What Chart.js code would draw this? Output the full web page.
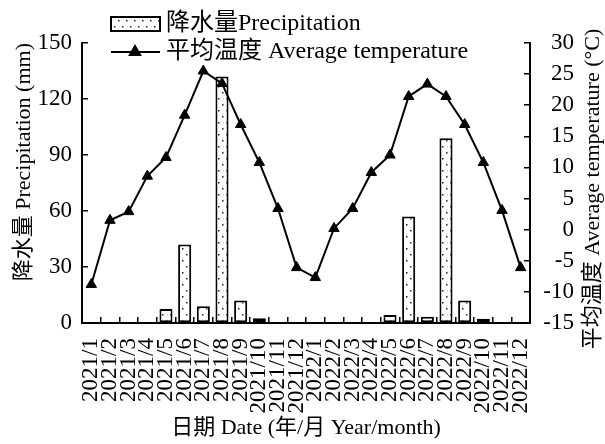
<!DOCTYPE html>
<html>
<head>
<meta charset="utf-8">
<script src="https://cdn.jsdelivr.net/npm/chart.js@4.4.1/dist/chart.umd.min.js"></script>
<style>
  html, body { margin: 0; padding: 0; background: #fff; }
  #wrap { width: 605px; height: 444px; }
</style>
</head>
<body>
<div id="wrap"><canvas id="climateChart" width="605" height="444"></canvas></div>
<script>
const months = [
  "2021/1", "2021/2", "2021/3", "2021/4", "2021/5", "2021/6",
  "2021/7", "2021/8", "2021/9", "2021/10", "2021/11", "2021/12",
  "2022/1", "2022/2", "2022/3", "2022/4", "2022/5", "2022/6",
  "2022/7", "2022/8", "2022/9", "2022/10", "2022/11", "2022/12"
];
const precipitation = [0, 0, 0, 0, 7.5, 42, 9, 132, 12, 2.5, 0, 0,
                       0, 0, 0, 0, 4.3, 57, 3.4, 99, 12, 2.3, 0, 0];
const temperature = [-8.8, 1.5, 2.9, 8.6, 11.6, 18.4, 25.5, 23.5, 16.9, 10.8, 3.4, -6.1,
                     -7.7, 0.2, 3.4, 9.2, 12.0, 21.4, 23.4, 21.4, 16.9, 10.8, 3.1, -6.1];
const precipTicks = [0, 30, 60, 90, 120, 150];
const tempTicks = [-15, -10, -5, 0, 5, 10, 15, 20, 25, 30];

const precipLabel = "降水量Precipitation";
const tempLabel = "平均温度 Average temperature";
const precipTitle = "降水量 Precipitation (mm)";
const tempTitle = "平均温度 Average temperature (°C)";
const dateTitle = "日期 Date (年/月 Year/month)";

const SERIF = '"Liberation Serif", "Noto Sans CJK SC", serif';
Chart.defaults.font.family = SERIF;
Chart.defaults.color = "#000";

// dotted fill for the bars
function dotPattern() {
  const c = document.createElement("canvas");
  c.width = 8;
  c.height = 12;
  const g = c.getContext("2d");
  g.fillStyle = "#fff";
  g.fillRect(0, 0, 8, 12);
  g.fillStyle = "#222";
  g.fillRect(2, 2, 1.5, 1.5);
  g.fillRect(6, 8, 1.5, 1.5);
  return g.createPattern(c, "repeat");
}

const ctx = document.getElementById("climateChart").getContext("2d");
const dots = dotPattern();

// legend drawn over the top of the plot, two rows
const legendBox = {
  id: "legendBox",
  afterDraw(chart) {
    const g = chart.ctx;
    const [bars, line] = chart.data.datasets;
    g.save();
    g.fillStyle = bars.backgroundColor;
    g.fillRect(111, 17, 49, 14);
    g.strokeStyle = "#000";
    g.lineWidth = 2;
    g.strokeRect(111, 17, 49, 14);

    g.beginPath();
    g.moveTo(111, 52);
    g.lineTo(160, 52);
    g.stroke();
    g.fillStyle = "#000";
    Chart.helpers.drawPoint(g, { pointStyle: "triangle", radius: 6, borderWidth: 1, rotation: 0 }, 135, 52);

    g.fillStyle = "#000";
    g.font = "24px " + SERIF;
    g.textAlign = "left";
    g.textBaseline = "middle";
    g.fillText(bars.label, 166, 24);
    g.fillText(line.label, 166, 52);
    g.restore();
  }
};

// right axis title reads bottom to top like the left one
const rightTitle = {
  id: "rightTitle",
  afterDraw(chart) {
    const g = chart.ctx;
    const area = chart.chartArea;
    g.save();
    g.translate(593, (area.top + area.bottom) / 2 + 6);
    g.rotate(-Math.PI / 2);
    g.fillStyle = "#000";
    g.font = "22px " + SERIF;
    g.textAlign = "center";
    g.textBaseline = "middle";
    g.fillText(tempTitle, 0, 0);
    g.restore();
  }
};

const tickGrid = { drawOnChartArea: false, tickLength: -6, color: "#000", lineWidth: 1.5 };

new Chart(ctx, {
  type: "bar",
  data: {
    labels: months,
    datasets: [
      {
        type: "bar",
        label: precipLabel,
        data: precipitation,
        yAxisID: "y",
        backgroundColor: dots,
        borderColor: "#000",
        borderWidth: 2,
        borderSkipped: false,
        barPercentage: 0.7,
        categoryPercentage: 1,
        order: 2
      },
      {
        type: "line",
        label: tempLabel,
        data: temperature,
        yAxisID: "y1",
        borderColor: "#000",
        borderWidth: 2,
        backgroundColor: "#000",
        pointStyle: "triangle",
        pointRadius: 6,
        pointBorderWidth: 1,
        tension: 0,
        order: 1
      }
    ]
  },
  options: {
    responsive: false,
    animation: false,
    layout: { padding: { top: 43, left: 0, right: 31, bottom: 0 } },
    plugins: {
      legend: { display: false },
      tooltip: { enabled: false }
    },
    scales: {
      x: {
        grid: { ...tickGrid, offset: true },
        border: { color: "#000", width: 2 },
        ticks: { autoSkip: false, minRotation: 90, maxRotation: 90, padding: 21, font: { size: 23 } },
        title: { display: true, text: dateTitle, font: { size: 22 }, padding: { top: 0, bottom: 3 } },
        afterFit: s => { s.height = 121; }
      },
      y: {
        position: "left",
        min: 0,
        max: 150,
        afterBuildTicks: s => { s.ticks = precipTicks.map(v => ({ value: v })); },
        grid: tickGrid,
        border: { color: "#000", width: 2 },
        ticks: { padding: 16, font: { size: 23 } },
        title: { display: true, text: precipTitle, align: "end", font: { size: 22 }, padding: { top: 11, bottom: 0 } },
        afterFit: s => { s.width = 82; }
      },
      y1: {
        position: "right",
        min: -15,
        max: 30,
        afterBuildTicks: s => { s.ticks = tempTicks.map(v => ({ value: v })); },
        grid: tickGrid,
        border: { color: "#000", width: 2 },
        ticks: { crossAlign: "far", padding: 19, font: { size: 23 } },
        afterFit: s => { s.width = 44; }
      }
    }
  },
  plugins: [legendBox, rightTitle]
});
</script>
</body>
</html>
